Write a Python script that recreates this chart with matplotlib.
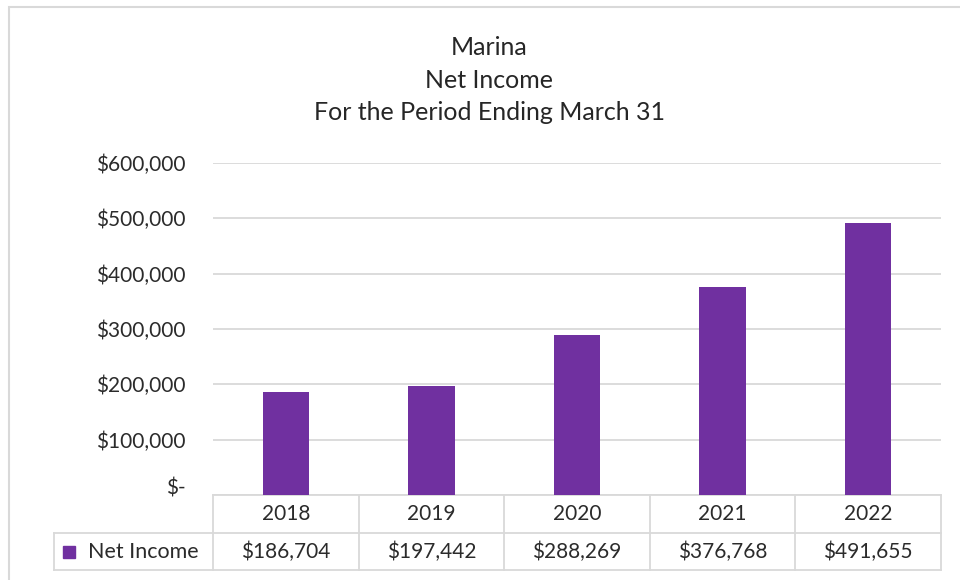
import matplotlib
matplotlib.use('Agg')
import matplotlib.pyplot as plt
from matplotlib.patches import Rectangle
import matplotlib.transforms as mtransforms


years = ['2018', '2019', '2020', '2021', '2022']
net_income = [186704, 197442, 288269, 376768, 491655]
series_name = 'Net Income'
title_lines = ['Marina', 'Net Income', 'For the Period Ending March 31']
yticks = [0, 100000, 200000, 300000, 400000, 500000, 600000]

PURPLE = '#7030A0'
GRID = '#D9D9D9'
TEXT = '#2b2b2b'

plt.rcParams['font.family'] = ['Lato', 'DejaVu Sans']


def money(v):
    return '$-' if v == 0 else f'${v:,.0f}'


def main():
    W, H = 960, 580
    fig = plt.figure(figsize=(9.6, 5.8), dpi=100)

    # chart frame (runs off the right and bottom edges)
    fig.patches.append(Rectangle((9 / W, -0.1), 2, 1 - 7 / H + 0.1, transform=fig.transFigure,
                                 fill=False, edgecolor=GRID, linewidth=1.5))

    left, right, top, bottom = 213, 941, 163, 495
    ax = fig.add_axes([left / W, 1 - bottom / H, (right - left) / W, (bottom - top) / H])

    x = range(len(years))
    ax.bar(x, net_income, width=0.32, color=PURPLE, zorder=3)
    ax.set_xlim(-0.5, len(years) - 0.5)
    ax.set_ylim(0, 600000)
    ax.set_yticks(yticks)
    ax.set_yticklabels([money(v) for v in yticks], color=TEXT, fontsize=15)
    ax.tick_params(axis='y', length=0, pad=20)
    ax.set_xticks([])
    ax.grid(axis='y', color=GRID, linewidth=1.3, zorder=0)
    for s in ax.spines.values():
        s.set_visible(False)
    # the "$-" label sits a little above its gridline
    zero_lbl = ax.get_yticklabels()[0]
    zero_lbl.set_transform(zero_lbl.get_transform() +
                           mtransforms.ScaledTranslation(0, 6 / 72, fig.dpi_scale_trans))

    # data table below the axes, in axes x / pixel y
    px = mtransforms.blended_transform_factory(ax.transData, fig.transFigure)
    fy = lambda p: 1 - p / H
    fx = lambda p: (p - left) / (right - left) * len(years) - 0.5
    row1, row2, row3 = 495, 533, 570
    lw = 1.3
    ax.plot([-0.5, len(years) - 0.5], [fy(row1)] * 2, color=GRID, lw=lw, transform=px, clip_on=False)
    for yy in (row2, row3):
        ax.plot([fx(54), len(years) - 0.5], [fy(yy)] * 2, color=GRID, lw=lw, transform=px, clip_on=False)
    for i in range(len(years) + 1):
        ax.plot([i - 0.5] * 2, [fy(row1), fy(row3)], color=GRID, lw=lw, transform=px, clip_on=False)
    ax.plot([fx(54)] * 2, [fy(row2), fy(row3)], color=GRID, lw=lw, transform=px, clip_on=False)

    for i, (yr, v) in enumerate(zip(years, net_income)):
        ax.text(i, fy((row1 + row2) / 2), yr, ha='center', va='center', color=TEXT,
                fontsize=15, transform=px)
        ax.text(i, fy((row2 + row3) / 2), money(v), ha='center', va='center', color=TEXT,
                fontsize=15, transform=px)

    fig.patches.append(Rectangle((63 / W, fy(558)), 12 / W, 12 / H, transform=fig.transFigure,
                                 color=PURPLE))
    fig.text(88 / W, fy((row2 + row3) / 2), series_name, ha='left', va='center', color=TEXT,
             fontsize=15.5)

    fig.text(489 / W, fy(80), '\n'.join(title_lines), ha='center', va='center',
             color='#262626', fontsize=18, linespacing=1.5)

    fig.savefig('out.png', dpi=100)


if __name__ == "__main__":
    main()
